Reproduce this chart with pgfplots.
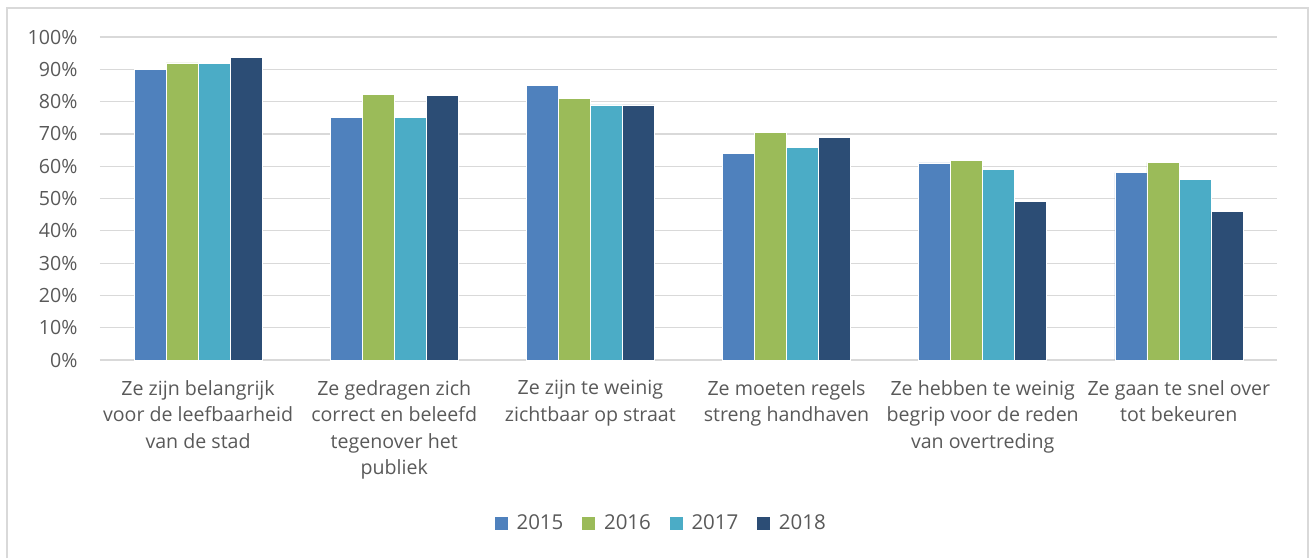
\documentclass[border=0pt]{standalone}
\usepackage{pgfplots}
\pgfplotsset{compat=1.18}
\usepackage{fontspec}
\setmainfont{Open Sans}
\definecolor{c15}{HTML}{4F81BD}
\definecolor{c16}{HTML}{9BBB59}
\definecolor{c17}{HTML}{4BACC6}
\definecolor{c18}{HTML}{2C4D75}
\definecolor{gridc}{HTML}{D9D9D9}
\definecolor{txt}{HTML}{595959}
\begin{document}
\begin{tikzpicture}
\useasboundingbox (0pt,0pt) rectangle (1312pt,558pt);
\draw[gridc, line width=1.2pt] (7pt,0pt) -- (7pt,550pt) -- (1308pt,550pt) -- (1308pt,0pt);
\begin{axis}[
  at={(100pt,198pt)}, anchor=south west,
  scale only axis, width=1177pt, height=323pt,
  ybar=0pt, bar width=32pt,
  xmin=-0.5, xmax=5.5, ymin=0, ymax=100,
  xtick={0,1,2,3,4,5},
  xticklabels={{Ze zijn belangrijk\\voor de leefbaarheid\\van de stad},
               {Ze gedragen zich\\correct en beleefd\\tegenover het\\publiek},
               {Ze zijn te weinig\\zichtbaar op straat},
               {Ze moeten regels\\streng handhaven},
               {Ze hebben te weinig\\begrip voor de reden\\van overtreding},
               {Ze gaan te snel over\\tot bekeuren}},
  ytick={0,10,...,100},
  yticklabel={\pgfmathprintnumber{\tick}\%},
  /pgf/number format/assume math mode=true,
  major tick length=0pt,
  axis line style={draw=none},
  ymajorgrids, grid style={gridc, line width=1.2pt},
  ticklabel style={font=\fontsize{19.6}{26.5}\selectfont, text=txt},
  xticklabel style={align=center, yshift=-17pt},
  yticklabel style={xshift=-19pt},
  legend style={at={(0.4766,-0.505)}, anchor=center, draw=none, fill=none,
    font=\fontsize{20.5}{24}\selectfont, text=txt, legend columns=4,
    /tikz/every odd column/.append style={column sep=6pt},
    /tikz/every even column/.append style={column sep=16pt}},
  legend image code/.code={\fill[#1] (0pt,-7pt) rectangle (14pt,7pt);},
  every axis plot/.append style={draw=white, line width=0.6pt},
]
\addplot[fill=c15] coordinates {(0,90) (1,75) (2,85) (3,64) (4,61) (5,58)};
\addplot[fill=c16] coordinates {(0,92) (1,82.3) (2,81) (3,70.4) (4,61.7) (5,61.2)};
\addplot[fill=c17] coordinates {(0,91.8) (1,75) (2,79) (3,65.8) (4,59) (5,55.8)};
\addplot[fill=c18] coordinates {(0,93.8) (1,81.8) (2,79) (3,68.8) (4,49) (5,46)};
\legend{2015,2016,2017,2018}
\end{axis}
\end{tikzpicture}
\end{document}
